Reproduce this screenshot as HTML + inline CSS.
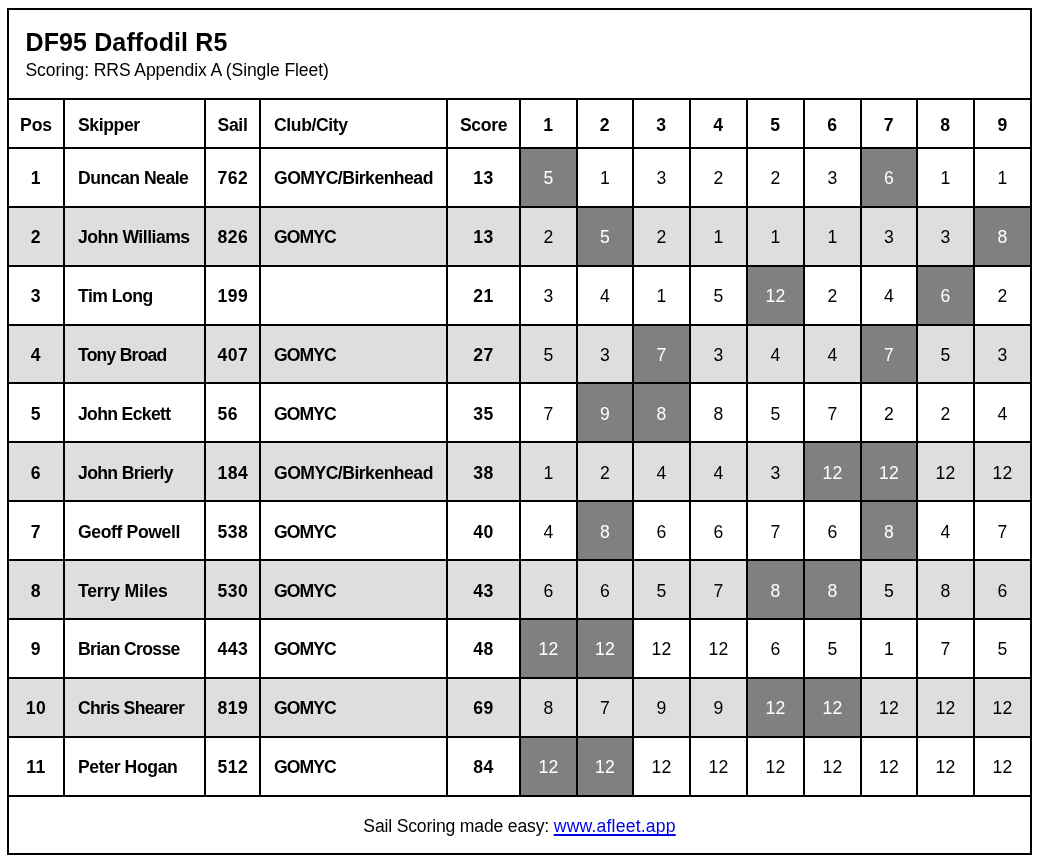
<!DOCTYPE html>
<html lang="en">
<head>
<meta charset="utf-8">
<title>DF95 Daffodil R5</title>
<style>
html,body{margin:0;padding:0;background:#fff;}
body{font-family:"Liberation Sans",Arial,sans-serif;font-size:17.6px;color:#000;}
table.results{will-change:transform;position:absolute;left:7px;top:8px;width:1025px;border-collapse:collapse;table-layout:fixed;}
table.results th,table.results td{border:2px solid #000;padding:0;text-align:center;vertical-align:middle;font-weight:normal;overflow:hidden;white-space:nowrap;letter-spacing:0.3px;}
col.c-pos{width:56px}
col.c-skipper{width:141px}
col.c-sail{width:55px}
col.c-club{width:187px}
col.c-score{width:73px}
col.c-race{width:57px}
col.c-race.n{width:56px}
table.results tr.title th{height:70.4px;text-align:left;padding-left:16.5px;vertical-align:top;padding-top:18px;}
tr.title .name{font-weight:bold;font-size:25px;line-height:28px;letter-spacing:0.12px;}
tr.title .sub{font-size:17.6px;line-height:22px;margin-top:3.4px;letter-spacing:-0.13px;}
table.results tr.head th{height:42.5px;padding-top:4px;}
table.results tbody td{height:53.9px;padding-top:3px;}
table.results tr.foot td{height:53.8px;padding-top:3px;letter-spacing:-0.175px;}
table.results .b{font-weight:bold;letter-spacing:0.5px;}
table.results .t{text-align:left;padding-left:13px;letter-spacing:-0.4px;}
table.results .s{text-align:left;padding-left:11.5px;}
tr.alt td{background:#dedede;}
td.d, tr.alt td.d{background:#808080;color:#fff;}
a{color:#0000ee;text-decoration:underline;text-decoration-thickness:2px;text-underline-offset:2px;text-decoration-skip-ink:none;letter-spacing:0.19px;}
table.results .h{letter-spacing:-0.33px;}
table.results .p{letter-spacing:-0.15px;}
</style>
</head>
<body>
<table class="results">
<colgroup>
<col class="c-pos"><col class="c-skipper"><col class="c-sail"><col class="c-club"><col class="c-score"><col class="c-race"><col class="c-race n"><col class="c-race"><col class="c-race"><col class="c-race"><col class="c-race"><col class="c-race n"><col class="c-race"><col class="c-race">
</colgroup>
<thead>
<tr class="title"><th colspan="14"><div class="name">DF95 Daffodil R5</div><div class="sub">Scoring: RRS Appendix A (Single Fleet)</div></th></tr>
<tr class="head"><th class="b p">Pos</th><th class="b t">Skipper</th><th class="b s h">Sail</th><th class="b t">Club/City</th><th class="b h">Score</th><th class="b">1</th><th class="b">2</th><th class="b">3</th><th class="b">4</th><th class="b">5</th><th class="b">6</th><th class="b">7</th><th class="b">8</th><th class="b">9</th></tr>
</thead>
<tbody>
<tr><td class="b">1</td><td class="b t" style="letter-spacing:-0.5px">Duncan Neale</td><td class="b s">762</td><td class="b t" style="letter-spacing:-0.52px">GOMYC/Birkenhead</td><td class="b">13</td><td class="r d">5</td><td class="r">1</td><td class="r">3</td><td class="r">2</td><td class="r">2</td><td class="r">3</td><td class="r d">6</td><td class="r">1</td><td class="r">1</td></tr>
<tr class="alt"><td class="b">2</td><td class="b t" style="letter-spacing:-0.5px">John Williams</td><td class="b s">826</td><td class="b t" style="letter-spacing:-0.95px">GOMYC</td><td class="b">13</td><td class="r">2</td><td class="r d">5</td><td class="r">2</td><td class="r">1</td><td class="r">1</td><td class="r">1</td><td class="r">3</td><td class="r">3</td><td class="r d">8</td></tr>
<tr><td class="b">3</td><td class="b t" style="letter-spacing:-0.51px">Tim Long</td><td class="b s">199</td><td class="b t" style="letter-spacing:0px"></td><td class="b">21</td><td class="r">3</td><td class="r">4</td><td class="r">1</td><td class="r">5</td><td class="r d">12</td><td class="r">2</td><td class="r">4</td><td class="r d">6</td><td class="r">2</td></tr>
<tr class="alt"><td class="b">4</td><td class="b t" style="letter-spacing:-0.79px">Tony Broad</td><td class="b s">407</td><td class="b t" style="letter-spacing:-0.95px">GOMYC</td><td class="b">27</td><td class="r">5</td><td class="r">3</td><td class="r d">7</td><td class="r">3</td><td class="r">4</td><td class="r">4</td><td class="r d">7</td><td class="r">5</td><td class="r">3</td></tr>
<tr><td class="b">5</td><td class="b t" style="letter-spacing:-0.66px">John Eckett</td><td class="b s">56</td><td class="b t" style="letter-spacing:-0.95px">GOMYC</td><td class="b">35</td><td class="r">7</td><td class="r d">9</td><td class="r d">8</td><td class="r">8</td><td class="r">5</td><td class="r">7</td><td class="r">2</td><td class="r">2</td><td class="r">4</td></tr>
<tr class="alt"><td class="b">6</td><td class="b t" style="letter-spacing:-0.65px">John Brierly</td><td class="b s">184</td><td class="b t" style="letter-spacing:-0.52px">GOMYC/Birkenhead</td><td class="b">38</td><td class="r">1</td><td class="r">2</td><td class="r">4</td><td class="r">4</td><td class="r">3</td><td class="r d">12</td><td class="r d">12</td><td class="r">12</td><td class="r">12</td></tr>
<tr><td class="b">7</td><td class="b t" style="letter-spacing:-0.38px">Geoff Powell</td><td class="b s">538</td><td class="b t" style="letter-spacing:-0.95px">GOMYC</td><td class="b">40</td><td class="r">4</td><td class="r d">8</td><td class="r">6</td><td class="r">6</td><td class="r">7</td><td class="r">6</td><td class="r d">8</td><td class="r">4</td><td class="r">7</td></tr>
<tr class="alt"><td class="b">8</td><td class="b t" style="letter-spacing:-0.18px">Terry Miles</td><td class="b s">530</td><td class="b t" style="letter-spacing:-0.95px">GOMYC</td><td class="b">43</td><td class="r">6</td><td class="r">6</td><td class="r">5</td><td class="r">7</td><td class="r d">8</td><td class="r d">8</td><td class="r">5</td><td class="r">8</td><td class="r">6</td></tr>
<tr><td class="b">9</td><td class="b t" style="letter-spacing:-0.65px">Brian Crosse</td><td class="b s">443</td><td class="b t" style="letter-spacing:-0.95px">GOMYC</td><td class="b">48</td><td class="r d">12</td><td class="r d">12</td><td class="r">12</td><td class="r">12</td><td class="r">6</td><td class="r">5</td><td class="r">1</td><td class="r">7</td><td class="r">5</td></tr>
<tr class="alt"><td class="b">10</td><td class="b t" style="letter-spacing:-0.71px">Chris Shearer</td><td class="b s">819</td><td class="b t" style="letter-spacing:-0.95px">GOMYC</td><td class="b">69</td><td class="r">8</td><td class="r">7</td><td class="r">9</td><td class="r">9</td><td class="r d">12</td><td class="r d">12</td><td class="r">12</td><td class="r">12</td><td class="r">12</td></tr>
<tr><td class="b">11</td><td class="b t" style="letter-spacing:-0.38px">Peter Hogan</td><td class="b s">512</td><td class="b t" style="letter-spacing:-0.95px">GOMYC</td><td class="b">84</td><td class="r d">12</td><td class="r d">12</td><td class="r">12</td><td class="r">12</td><td class="r">12</td><td class="r">12</td><td class="r">12</td><td class="r">12</td><td class="r">12</td></tr>
</tbody>
<tfoot>
<tr class="foot"><td colspan="14">Sail Scoring made easy: <a href="#">www.afleet.app</a></td></tr>
</tfoot>
</table>
</body>
</html>
